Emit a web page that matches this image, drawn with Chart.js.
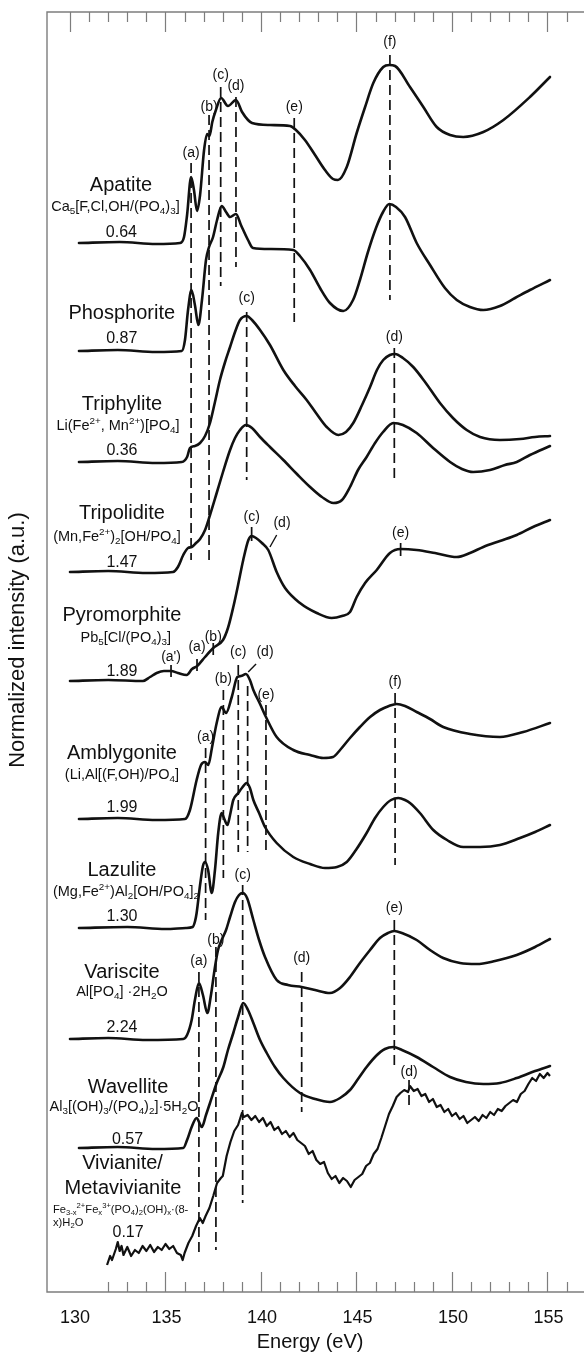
<!DOCTYPE html>
<html>
<head>
<meta charset="utf-8">
<script src="https://cdn.jsdelivr.net/npm/chart.js@4.4.1/dist/chart.umd.min.js"></script>
<style>
  html, body { margin: 0; padding: 0; background: #fff; overflow: hidden; }
  canvas { display: block; }
</style>
</head>
<body>
<canvas id="xanes" width="584" height="1359"></canvas>
<script>
// P L2,3-edge XANES spectra, [energy eV, stacked normalized intensity a.u.]
const apatite = [[130.47,104.9],[132.6,105.0],[134.5,104.8],[135.76,104.9],[135.97,105.5],[136.13,107.7],[136.34,111.5],[136.49,110.2],[136.65,108.1],[136.81,109.7],[137.02,114.2],[137.18,115.8],[137.30,115.6],[137.45,117.0],[137.64,118.2],[137.91,119.4],[138.27,118.6],[138.69,119.2],[139.01,118.0],[139.32,117.2],[139.53,116.9],[140.47,116.7],[141.52,116.6],[141.83,116.2],[142.30,115.2],[142.83,113.7],[143.35,112.2],[143.77,111.3],[144.03,111.2],[144.49,112.5],[145.01,115.9],[145.45,118.5],[145.88,120.9],[146.40,122.5],[146.72,122.7],[147.02,122.6],[147.80,120.5],[148.50,118.5],[149.20,116.5],[149.90,115.7],[150.59,115.5],[151.64,116.0],[152.69,117.2],[154.08,119.5],[155.13,121.5]];
const phosphorite = [[130.47,94.1],[132.5,94.2],[134.5,94.0],[135.85,94.1],[136.02,95.2],[136.18,98.2],[136.36,100.2],[136.54,98.7],[136.72,96.7],[136.91,99.2],[137.12,103.2],[137.28,104.5],[137.49,105.5],[137.70,107.2],[137.94,108.6],[138.17,108.0],[138.38,107.5],[138.69,107.8],[138.95,106.7],[139.32,105.2],[139.58,104.4],[140.47,104.3],[141.69,104.2],[142.04,103.6],[142.57,102.2],[143.09,100.4],[143.61,98.9],[144.31,98.1],[144.82,99.2],[145.18,101.2],[145.60,104.0],[146.02,106.4],[146.39,108.0],[146.72,108.8],[147.07,108.5],[147.54,107.5],[148.15,104.9],[148.85,102.7],[149.63,100.4],[150.25,99.2],[150.94,98.5],[151.64,98.2],[152.51,98.6],[153.30,99.4],[154.08,100.2],[155.13,101.2]];
const triphylite = [[130.47,83.0],[132.5,83.1],[134.5,82.9],[135.85,83.0],[136.13,83.5],[136.28,84.4],[136.54,84.6],[136.81,84.9],[137.07,85.6],[137.33,86.9],[137.59,89.0],[137.85,91.2],[138.12,93.0],[138.38,94.5],[138.64,96.0],[138.90,97.2],[139.25,97.6],[139.53,97.2],[139.95,96.2],[140.47,94.7],[141.17,92.2],[141.78,90.6],[142.39,89.2],[142.88,87.9],[143.44,86.5],[144.05,85.7],[144.45,86.0],[144.83,86.9],[145.29,88.7],[145.71,90.5],[146.07,92.2],[146.40,93.2],[146.75,93.7],[147.02,93.8],[147.43,93.4],[147.97,92.5],[148.59,91.0],[149.37,88.9],[150.05,87.4],[150.77,86.2],[151.47,85.5],[152.51,85.2],[153.56,85.3],[154.35,85.5],[155.13,85.6]];
const tripolidite = [[130.0,72.0],[132.0,72.1],[134.0,71.9],[135.39,72.0],[135.65,72.5],[135.93,73.7],[136.18,74.4],[136.37,74.5],[136.60,74.9],[136.81,75.3],[137.07,76.2],[137.33,77.7],[137.68,79.9],[138.01,82.0],[138.38,84.2],[138.64,85.4],[138.90,86.2],[139.21,86.7],[139.53,86.4],[139.95,85.5],[140.47,84.5],[141.17,83.2],[141.88,81.8],[142.57,80.5],[143.19,79.5],[143.79,78.9],[144.24,79.2],[144.66,80.5],[145.08,82.2],[145.53,83.5],[145.97,84.9],[146.39,86.0],[146.93,86.9],[147.43,86.7],[148.15,85.9],[149.01,84.4],[149.90,83.0],[150.52,82.3],[151.11,82.0],[151.99,82.2],[152.77,82.7],[153.39,83.0],[154.08,83.7],[155.13,84.6]];
const pyromorphite = [[130.0,61.1],[132.0,61.2],[133.82,61.1],[134.19,61.5],[134.54,61.9],[134.92,62.1],[135.29,62.1],[135.65,61.9],[136.11,61.7],[136.39,62.3],[136.66,62.6],[137.07,63.5],[137.50,64.4],[138.01,65.2],[138.27,66.4],[138.55,68.5],[138.80,70.7],[139.07,73.2],[139.34,75.2],[139.51,75.6],[139.74,75.4],[140.05,74.9],[140.38,74.2],[140.82,72.0],[141.26,70.4],[142.04,68.9],[142.92,67.9],[143.70,67.4],[144.24,67.6],[144.66,68.0],[145.01,69.5],[145.45,70.9],[146.06,72.2],[146.75,73.9],[147.31,74.3],[148.15,74.2],[149.11,73.9],[150.25,73.5],[150.94,73.9],[151.64,74.5],[152.51,75.1],[153.39,75.7],[154.24,76.5],[155.13,77.2]];
const amblygonite = [[130.47,47.3],[132.5,47.4],[134.5,47.2],[136.02,47.3],[136.28,48.2],[136.63,51.2],[136.86,52.7],[137.07,53.0],[137.24,52.7],[137.43,54.4],[137.68,56.9],[137.94,58.5],[138.17,57.9],[138.47,59.5],[138.76,61.5],[138.95,61.6],[139.21,61.8],[139.42,61.2],[139.60,60.2],[139.95,58.8],[140.26,57.5],[140.82,55.5],[141.69,54.2],[142.57,53.7],[143.26,53.4],[143.77,53.5],[144.14,54.2],[144.66,55.4],[145.18,56.5],[145.71,57.5],[146.23,58.2],[146.70,58.6],[147.10,58.8],[147.54,58.6],[148.15,58.0],[148.85,57.3],[149.54,56.5],[150.94,55.8],[152.51,55.5],[153.73,56.0],[155.13,56.9]];
const lazulite = [[130.47,36.4],[133.0,36.5],[135.0,36.3],[136.07,36.4],[136.42,36.5],[136.55,37.1],[136.63,37.9],[136.81,40.7],[136.96,42.6],[137.07,43.0],[137.23,42.2],[137.42,39.9],[137.59,42.2],[137.76,45.9],[137.94,47.9],[138.06,47.4],[138.24,46.7],[138.38,47.7],[138.55,49.2],[138.81,49.9],[139.0,50.4],[139.25,50.9],[139.42,50.4],[139.60,49.2],[139.90,47.9],[140.21,46.5],[140.82,44.9],[141.69,43.5],[142.57,42.8],[143.35,42.4],[143.98,42.5],[144.49,43.0],[144.97,44.2],[145.53,45.9],[145.97,47.4],[146.40,48.5],[146.81,49.2],[147.19,49.4],[147.54,49.2],[147.80,48.9],[148.32,47.9],[149.02,46.2],[149.74,45.2],[150.59,44.5],[151.47,44.5],[152.51,44.7],[153.56,45.4],[154.35,46.0],[155.13,46.7]];
const variscite = [[130.0,25.3],[132.0,25.4],[134.0,25.2],[135.93,25.3],[136.13,25.7],[136.37,27.2],[136.54,29.2],[136.75,30.9],[136.96,29.7],[137.19,27.9],[137.38,29.7],[137.59,32.5],[137.75,34.2],[137.94,35.2],[138.17,36.2],[138.38,37.5],[138.64,39.0],[138.85,39.7],[139.04,39.9],[139.27,39.4],[139.60,37.2],[139.90,35.2],[140.21,33.5],[140.82,31.2],[141.41,30.7],[142.13,30.5],[142.83,30.2],[143.61,29.9],[144.14,30.4],[144.66,31.5],[145.18,32.9],[145.71,34.2],[146.23,35.4],[146.65,35.9],[146.98,36.1],[147.38,35.9],[148.15,35.2],[148.85,34.2],[149.54,33.4],[150.42,32.9],[151.29,32.8],[152.25,33.1],[153.39,33.7],[154.35,34.5],[155.13,35.3]];
const wavellite = [[130.47,14.4],[132.5,14.5],[134.5,14.3],[135.93,14.4],[136.13,15.2],[136.37,16.5],[136.63,17.4],[136.90,16.5],[137.12,17.7],[137.33,18.9],[137.68,20.9],[138.03,22.5],[138.27,24.2],[138.55,25.9],[138.80,27.5],[139.07,28.9],[139.32,28.2],[139.60,26.9],[139.95,25.2],[140.30,23.9],[140.73,22.5],[141.17,21.4],[142.04,19.9],[142.83,19.3],[143.61,19.0],[144.14,19.4],[144.66,20.2],[145.08,21.3],[145.53,22.5],[146.02,23.6],[146.49,24.3],[146.93,24.5],[147.38,24.2],[148.15,23.5],[149.01,22.5],[149.90,21.5],[150.73,21.0],[151.64,20.8],[152.51,20.9],[153.39,21.4],[154.35,22.1],[155.13,22.6]];
const vivianite = [[131.94,2.7],[132.1,3.6],[132.2,3.2],[132.4,4.3],[132.5,5.0],[132.6,4.1],[132.7,4.6],[132.8,3.7],[133.0,4.5],[133.2,3.6],[133.4,4.2],[133.6,3.9],[133.8,4.6],[134.0,4.1],[134.2,4.7],[134.4,4.0],[134.6,4.5],[134.8,4.2],[135.0,4.8],[135.2,4.3],[135.4,4.6],[135.6,3.9],[135.8,3.7],[135.9,3.2],[136.0,3.9],[136.2,4.9],[136.4,5.6],[136.6,6.6],[136.8,7.4],[136.95,6.9],[137.1,7.6],[137.3,8.4],[137.5,9.6],[137.7,10.9],[137.9,11.4],[138.0,11.6],[138.2,13.6],[138.4,15.0],[138.6,16.1],[138.8,16.7],[139.0,17.9],[139.1,17.5],[139.3,17.7],[139.5,17.2],[139.7,17.6],[139.9,17.0],[140.1,17.4],[140.3,16.6],[140.5,17.0],[140.7,16.2],[140.9,16.5],[141.1,15.8],[141.3,16.1],[141.5,15.5],[141.7,15.9],[141.9,15.2],[142.1,14.9],[142.3,14.6],[142.5,13.8],[142.7,14.1],[142.9,13.2],[143.1,12.8],[143.3,13.0],[143.5,11.9],[143.7,11.3],[143.9,11.6],[144.1,10.9],[144.3,11.4],[144.5,11.1],[144.7,10.5],[144.9,11.2],[145.1,11.5],[145.3,11.8],[145.5,12.6],[145.7,12.9],[145.9,13.8],[146.1,14.3],[146.3,15.4],[146.5,16.6],[146.7,17.8],[146.9,18.6],[147.1,19.5],[147.3,19.9],[147.5,20.2],[147.7,20.0],[147.8,20.6],[148.0,20.1],[148.2,20.3],[148.4,19.6],[148.6,19.8],[148.8,19.0],[149.0,19.3],[149.2,18.5],[149.4,18.7],[149.6,18.0],[149.8,18.3],[150.0,17.6],[150.2,17.9],[150.4,17.3],[150.6,17.6],[150.8,16.9],[151.0,17.2],[151.2,17.5],[151.4,17.1],[151.6,17.7],[151.8,17.4],[152.0,18.0],[152.2,17.7],[152.4,18.3],[152.6,18.1],[152.8,18.6],[153.0,18.9],[153.2,19.2],[153.4,19.0],[153.6,19.8],[153.8,20.1],[154.0,20.8],[154.2,21.4],[154.4,21.1],[154.6,21.8],[154.8,21.4],[155.0,21.9],[155.13,21.6]];

const smoothSpectra = [apatite, phosphorite, triphylite, tripolidite, pyromorphite, amblygonite, lazulite, variscite, wavellite];

// sample names, formulas and peak-area ratios
const minerals = ['Apatite', 'Phosphorite', 'Triphylite', 'Tripolidite', 'Pyromorphite', 'Amblygonite', 'Lazulite', 'Variscite', 'Wavellite'];
const formulas = ['Ca_{5}[F,Cl,OH/(PO_{4})_{3}]', '', 'Li(Fe^{2+}, Mn^{2+})[PO_{4}]', '(Mn,Fe^{2+})_{2}[OH/PO_{4}]', 'Pb_{5}[Cl/(PO_{4})_{3}]', '(Li,Al[(F,OH)/PO_{4}]', '(Mg,Fe^{2+})Al_{2}[OH/PO_{4}]_{2}', 'Al[PO_{4}] ·2H_{2}O', 'Al_{3}[(OH)_{3}/(PO_{4})_{2}]·5H_{2}O'];
const ratios = ['0.64', '0.87', '0.36', '1.47', '1.89', '1.99', '1.30', '2.24', '0.57', '0.17'];

// x axis
const majorTicks = [130, 135, 140, 145, 150, 155];
const tickLabels = ['130', '135', '140', '145', '150', '155'];

// peak assignments: energy of each feature
const peaks = [
  { t: '(a)', e: 136.34, ty: 113.9, y0: 112.9, y1: 73.2, dash: true },
  { t: '(b)', e: 137.28, ty: 118.5, y0: 117.7, y1: 73.2, dash: true },
  { t: '(c)', e: 137.89, ty: 121.7, y0: 120.5, y1: 100.6, dash: true },
  { t: '(d)', e: 138.69, ty: 120.6, y0: 119.5, y1: 102.5, dash: true },
  { t: '(e)', e: 141.74, ty: 118.5, y0: 117.4, y1: 97.0, dash: true },
  { t: '(f)', e: 146.75, ty: 125.0, y0: 123.7, y1: 99.2, dash: true },
  { t: '(c)', e: 139.25, ty: 99.4, y0: 98.0, y1: 81.2, dash: true },
  { t: '(d)', e: 146.98, ty: 95.5, y0: 94.4, y1: 81.2, dash: true },
  { t: "(a')", e: 135.29, ty: 63.5, y0: 62.7, y1: 61.5 },
  { t: '(a)', e: 136.65, ty: 64.5, y0: 63.3, y1: 62.1 },
  { t: '(b)', e: 137.50, ty: 65.5, y0: 64.9, y1: 63.7 },
  { t: '(c)', e: 139.51, ty: 77.5, y0: 76.5, y1: 75.1 },
  { t: '(d)', e: 141.10, ty: 76.9, slash: [140.82, 75.7, 140.47, 74.5] },
  { t: '(e)', e: 147.31, ty: 75.9, y0: 74.9, y1: 73.6 },
  { t: '(a)', e: 137.10, ty: 55.5, y0: 54.4, y1: 37.2, dash: true },
  { t: '(b)', e: 138.03, ty: 61.3, y0: 60.2, y1: 41.4, dash: true },
  { t: '(c)', e: 138.81, ty: 64.0, y0: 62.7, y1: 44.0, dash: true },
  { t: '(d)', e: 140.21, ty: 64.0, slash: [139.74, 62.8, 139.33, 62.0] },
  { t: '', e: 139.30, y0: 60.6, y1: 44.0, dash: true },
  { t: '(e)', e: 140.26, ty: 59.7, y0: 58.7, y1: 43.7, dash: true },
  { t: '(f)', e: 147.02, ty: 61.0, y0: 59.9, y1: 42.7, dash: true },
  { t: '(a)', e: 136.75, ty: 33.1, y0: 32.0, y1: 3.7, dash: true },
  { t: '(b)', e: 137.64, ty: 35.2, y0: 34.5, y1: 4.2, dash: true },
  { t: '(c)', e: 139.04, ty: 41.7, y0: 40.7, y1: 8.9, dash: true },
  { t: '(d)', e: 142.13, ty: 33.4, y0: 32.0, y1: 18.0, dash: true },
  { t: '(e)', e: 146.98, ty: 38.4, y0: 37.2, y1: 22.5, dash: true },
  { t: '(d)', e: 147.75, ty: 22.0, y0: 21.2, y1: 18.7, dash: true }
];

// where each sample's text block sits (energy, intensity)
const nameAt = [[132.67, 110.7], [132.71, 97.9], [132.72, 88.8], [132.72, 77.9], [132.72, 67.7], [132.72, 53.9], [132.72, 42.2], [132.72, 32.0], [133.04, 20.5]];
const formulaAt = [[132.38, 108.5], null, [132.51, 86.6], [132.46, 75.5], [132.92, 65.4], [132.72, 51.7], [132.93, 40.0], [132.72, 30.0], [132.83, 18.5]];
const ratioAt = [[132.69, 105.9], [132.71, 95.3], [132.72, 84.1], [132.72, 72.9], [132.72, 62.0], [132.72, 48.4], [132.72, 37.5], [132.72, 26.4], [133.01, 15.2], [133.04, 5.9]];

const FONT = '"Liberation Sans", Arial, Helvetica, sans-serif';
const INK = '#111';
const AXIS = '#7d7d7d';

function toXY(pairs) {
  return pairs.map(p => ({ x: p[0], y: p[1] }));
}

const datasets = [];
smoothSpectra.forEach(s => {
  datasets.push({
    data: toXY(s), borderColor: INK, borderWidth: 2.6,
    cubicInterpolationMode: 'monotone', borderJoinStyle: 'round', borderCapStyle: 'round'
  });
});
datasets.push({
  data: toXY(vivianite), borderColor: INK, borderWidth: 2.2, tension: 0,
  borderJoinStyle: 'round'
});
peaks.forEach(p => {
  if (p.slash) {
    datasets.push({
      data: [{ x: p.slash[0], y: p.slash[1] }, { x: p.slash[2], y: p.slash[3] }],
      borderColor: INK, borderWidth: 1.4, tension: 0
    });
  }
  if (p.y0 !== undefined) {
    datasets.push({
      data: [{ x: p.e, y: p.y0 }, { x: p.e, y: p.y1 }],
      borderColor: INK, borderWidth: 1.7, tension: 0,
      borderDash: p.dash ? [10, 5] : []
    });
  }
});

// text with _{sub} and ^{sup} runs
function drawRich(ctx, src, x, y, size, align) {
  const parts = [];
  src.replace(/([_^])\{([^}]*)\}|[^_^]+/g, (m, k, inner) => {
    parts.push(k ? { s: inner, k: k } : { s: m, k: '' });
    return m;
  });
  let total = 0;
  parts.forEach(p => {
    p.size = p.k ? size * 0.68 : size;
    ctx.font = p.size + 'px ' + FONT;
    p.w = ctx.measureText(p.s).width;
    total += p.w;
  });
  let cx = align === 'left' ? x : x - total / 2;
  ctx.textAlign = 'left';
  ctx.textBaseline = 'middle';
  parts.forEach(p => {
    ctx.font = p.size + 'px ' + FONT;
    const dy = p.k === '_' ? size * 0.3 : (p.k === '^' ? -size * 0.33 : 0);
    ctx.fillText(p.s, cx, y + dy);
    cx += p.w;
  });
}

const frame = {
  id: 'frame',
  beforeDatasetsDraw(chart) {
    const { ctx, chartArea: a, scales: { x } } = chart;
    ctx.save();
    ctx.strokeStyle = AXIS;
    ctx.lineWidth = 1.4;
    ctx.beginPath();
    ctx.moveTo(a.right, a.top); ctx.lineTo(a.left, a.top);
    ctx.lineTo(a.left, a.bottom); ctx.lineTo(a.right, a.bottom);
    ctx.stroke();
    ctx.lineWidth = 1.2;
    for (let e = 130; e <= 156; e++) {
      const px = Math.round(x.getPixelForValue(e)) + 0.5;
      const len = e % 5 === 0 ? 20 : 10;
      ctx.beginPath();
      ctx.moveTo(px, a.top); ctx.lineTo(px, a.top + len);
      if (e >= 132) { ctx.moveTo(px, a.bottom); ctx.lineTo(px, a.bottom - len); }
      ctx.stroke();
    }
    ctx.restore();
  },
  afterDraw(chart) {
    const { ctx, chartArea: a, scales: { x, y } } = chart;
    ctx.save();
    ctx.fillStyle = INK;
    ctx.textAlign = 'center';
    ctx.textBaseline = 'middle';

    ctx.font = '18px ' + FONT;
    majorTicks.forEach((v, i) => ctx.fillText(tickLabels[i], x.getPixelForValue(v) + (i === 0 ? 5 : 1), a.bottom + 26));
    ctx.font = '20px ' + FONT;
    ctx.fillText('Energy (eV)', x.getPixelForValue(142.57), a.bottom + 50);

    ctx.save();
    ctx.translate(a.left - 29, y.getPixelForValue(65.2));
    ctx.rotate(-Math.PI / 2);
    ctx.font = '22px ' + FONT;
    ctx.fillText('Normalized intensity (a.u.)', 0, 0);
    ctx.restore();

    // sample labels
    minerals.forEach((m, i) => {
      ctx.font = '20px ' + FONT;
      ctx.textAlign = 'center';
      ctx.fillText(m, x.getPixelForValue(nameAt[i][0]), y.getPixelForValue(nameAt[i][1]));
      if (formulaAt[i]) {
        drawRich(ctx, formulas[i], x.getPixelForValue(formulaAt[i][0]), y.getPixelForValue(formulaAt[i][1]), 14.5, 'center');
      }
    });
    ctx.textAlign = 'center';
    ctx.font = '20px ' + FONT;
    ctx.fillText('Vivianite/', x.getPixelForValue(132.75), y.getPixelForValue(12.9));
    ctx.fillText('Metavivianite', x.getPixelForValue(132.77), y.getPixelForValue(10.4));
    drawRich(ctx, 'Fe_{3-x}^{2+}Fe_{x}^{3+}(PO_{4})_{2}(OH)_{x}·(8-', x.getPixelForValue(129.11), y.getPixelForValue(8.2), 11.2, 'left');
    drawRich(ctx, 'x)H_{2}O', x.getPixelForValue(129.11), y.getPixelForValue(6.9), 11.2, 'left');

    ctx.textAlign = 'center';
    ctx.textBaseline = 'middle';
    ctx.font = '16px ' + FONT;
    ratios.forEach((r, i) => ctx.fillText(r, x.getPixelForValue(ratioAt[i][0]), y.getPixelForValue(ratioAt[i][1])));

    // peak letters
    ctx.font = '14px ' + FONT;
    peaks.forEach(p => {
      if (p.t) ctx.fillText(p.t, x.getPixelForValue(p.e), y.getPixelForValue(p.ty));
    });
    ctx.restore();
  }
};

new Chart(document.getElementById('xanes'), {
  type: 'line',
  data: { datasets: datasets },
  options: {
    responsive: false,
    animation: false,
    events: [],
    layout: { padding: { left: 47, top: 12, right: 0, bottom: 67 } },
    scales: {
      x: { type: 'linear', min: 128.796, max: 156.911, display: false },
      y: { type: 'linear', min: 0, max: 128, display: false }
    },
    elements: { point: { radius: 0 } },
    plugins: { legend: { display: false }, tooltip: { enabled: false } }
  },
  plugins: [frame]
});
</script>
</body>
</html>
